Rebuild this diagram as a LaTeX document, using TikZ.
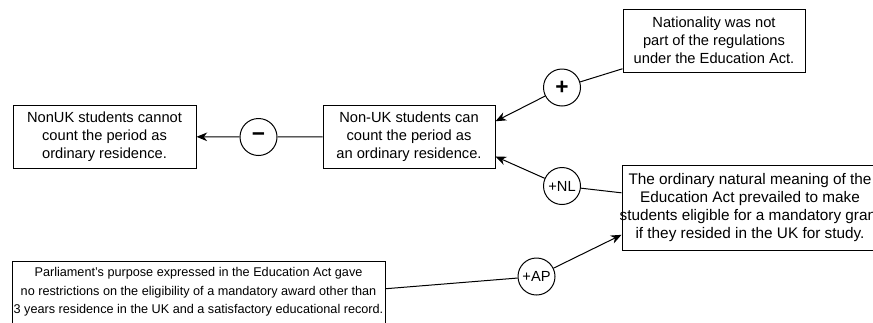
\documentclass[tikz,border=0pt]{standalone}
\usepackage{fontspec}
\setmainfont{Liberation Sans}
\usetikzlibrary{arrows.meta}
\newcommand{\boxheight}{47.25pt}
\newcommand{\signfont}{\fontsize{17}{17}\selectfont\bfseries}

\begin{document}
\begin{tikzpicture}[x=0.75pt, y=-0.75pt, line width=0.75pt, >={Stealth[length=8pt, width=6.5pt, inset=2.5pt]}]
  \tikzset{claim/.style={draw, inner sep=0pt, align=center, minimum height=\boxheight, font=\fontsize{11}{13.5}\selectfont}}
  \tikzset{link/.style={draw, circle, inner sep=0pt, minimum size=27.75pt, font=\fontsize{11}{13.5}\selectfont}}
  \useasboundingbox (0,0) rectangle (873,322);
  \clip (0,0) rectangle (873,322);
  \node[claim, minimum width=137.25pt] (cannot) at (104.5,136.5) {NonUK students cannot\\count the period as\\ordinary residence.};
  \node[claim, minimum width=129pt] (can) at (409,136.5) {Non-UK students can\\count the period as\\an ordinary residence.};
  \node[claim, minimum width=136.5pt] (nationality) at (714,40.5) {Nationality was not\\part of the regulations\\under the Education Act.};
  \node[claim, minimum width=192pt, minimum height=63.75pt, font=\fontsize{11.5}{13.5}\selectfont] (meaning) at (750,207.5) {The ordinary natural meaning of the\\Education Act prevailed to make\\\makebox[180pt]{students eligible for a mandatory grant}\\if they resided in the UK for study.};
  \node[claim, minimum width=279.75pt, minimum height=46.5pt, font=\fontsize{9.5}{14}\selectfont] (purpose) at (198.5,292) {Parliament's purpose expressed in the Education Act gave\\no restrictions on the eligibility of a mandatory award other than\\3 years residence in the UK and a satisfactory educational record.};
  \node[link, font=\signfont] (minus) at (258.5,137) {−};
  \node[link, font=\signfont] (plus) at (562,87.5) {+};
  \node[link] (nl) at (562,186) {+NL};
  \node[link] (ap) at (536.5,276.5) {+AP};
  \draw (can) -- (minus);
  \draw (minus) edge[->] (cannot);
  \draw (nationality) -- (plus);
  \draw (plus) edge[->] (can.10);
  \draw (meaning) -- (nl);
  \draw (nl) edge[->] (can.-13);
  \draw (purpose.1) -- (ap);
  \draw (ap) edge[->] (meaning.192);
\end{tikzpicture}
\end{document}
